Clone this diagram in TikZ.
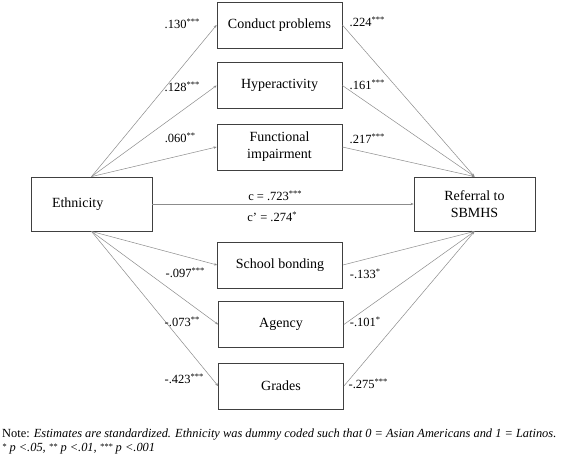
\documentclass[tikz,border=0pt]{standalone}
\usepackage{fontspec}
\setmainfont{Liberation Serif}
\usetikzlibrary{arrows.meta}
\newcommand{\stars}[1]{\raisebox{3.5pt}{\fontsize{8.5}{8.5}\selectfont #1}}
\newcommand{\nstars}[1]{\raisebox{2pt}{\fontsize{8.5}{8.5}\selectfont #1}}
\begin{document}
\begin{tikzpicture}[x=1pt,y=-1pt,
 box/.style={draw=black!75, line width=0.8pt, minimum width=125pt, minimum height=46pt, align=center, font=\fontsize{14}{17}\selectfont, inner sep=0pt},
 conn/.style={draw=black!45, line width=0.5pt, -{Stealth[length=3pt,width=2.5pt]}},
 lab/.style={font=\fontsize{12.5}{14}\selectfont, inner sep=0pt},
 note/.style={font=\fontsize{12.4}{14.5}\selectfont, inner sep=0pt, align=left, anchor=north west}]
\useasboundingbox[fill=white] (0,0) rectangle (567,455);
% outer boxes
\node[box, minimum width=121pt, minimum height=54pt, text width=79pt, inner xsep=21pt, align=left] (eth) at (91.5,204) {Ethnicity};
\node[box, minimum width=121pt, minimum height=54pt] (ref) at (474.5,204) {Referral to\\SBMHS};
% mediators
\node[box] (cp) at (279.5,25) {\raisebox{3pt}{Conduct problems}};
\node[box] (hy) at (279.5,85.5) {Hyperactivity};
\node[box] (fi) at (279.5,147) {Functional\\impairment};
\node[box] (sb) at (280,265) {School bonding};
\node[box] (ag) at (281,324.5) {\raisebox{-4pt}{Agency}};
\node[box] (gr) at (281,386) {Grades};
% connectors
\foreach \m in {cp,hy,fi}{
  \draw[conn] (eth.north) -- (\m.west);
  \draw[conn] (\m.east) -- (ref.north);
}
\foreach \m in {sb,ag,gr}{
  \draw[conn] (eth.south) -- (\m.west);
  \draw[conn] (\m.east) -- (ref.south);
}
\draw[conn] (eth.east) -- (ref.west);
% labels
\node[lab] (l1) at (182,24) {.130\stars{***}};
\node[lab] (l2) at (182,87) {.128\stars{***}};
\node[lab] (l3) at (180,138) {.060\stars{**}};
\node[lab] (r1) at (367,22) {.224\stars{***}};
\node[lab] (r2) at (367,85) {.161\stars{***}};
\node[lab] (r3) at (367,139) {.217\stars{***}};
\node[lab] (c1) at (275,196) {c = .723\stars{***}};
\node[lab] (c2) at (272,217) {c’ = .274\stars{*}};
\node[lab] (l4) at (185,273) {-.097\stars{***}};
\node[lab] (l5) at (182,322) {-.073\stars{**}};
\node[lab] (l6) at (184,379) {-.423\stars{***}};
\node[lab] (r4) at (365,274) {-.133\stars{*}};
\node[lab] (r5) at (365,322) {-.101\stars{*}};
\node[lab] (r6) at (368,384) {-.275\stars{***}};
% note
\node[note] (n1) at (2,428.5) {Note: \textit{Estimates are standardized. Ethnicity was dummy coded such that 0 = Asian Americans and 1 = Latinos.}\\
\textit{\nstars{*} p <.05, \nstars{**} p <.01, \nstars{***} p <.001}};
\end{tikzpicture}
\end{document}
